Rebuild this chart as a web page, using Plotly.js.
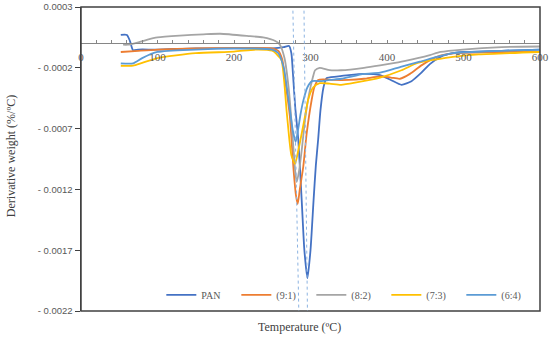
<!DOCTYPE html>
<html>
<head>
<meta charset="utf-8">
<script src="https://cdn.plot.ly/plotly-3.0.1.min.js"></script>
<style>html,body{margin:0;padding:0;background:#fff;}#chart{width:550px;height:341px;}</style>
</head>
<body>
<div id="chart"></div>
<script>
// Series names
const seriesNames = ["PAN", "(9:1)", "(8:2)", "(7:3)", "(6:4)"];

// Temperature (°C) and derivative weight (%/°C) for each series
const panT = [52, 60, 64, 68, 75, 100, 150, 200, 250, 265, 272, 275, 277, 280, 284, 288.5, 292, 296, 300, 304, 307, 310, 313, 317, 321, 334, 350, 370, 391, 405, 419, 432, 445, 456, 470, 486, 500, 550, 600];
const panY = [0.00007, 0.00007, 0.00002, -0.000055, -0.00005, -0.00005, -0.00004, -0.00004, -0.00004, -0.00003, -0.00002, -0.00008, -0.000245, -0.00052, -0.00079, -0.00129, -0.0017, -0.00193, -0.0017, -0.00129, -0.001, -0.00079, -0.00055, -0.00036, -0.000286, -0.000273, -0.00026, -0.00025, -0.00026, -0.0003, -0.00034, -0.00031, -0.00024, -0.00017, -0.00011, -0.00008, -0.00007, -0.00006, -0.00005];

const s91T = [52, 75, 100, 150, 200, 250, 258, 263, 268, 273, 278, 281, 283.3, 286, 290.6, 295, 301.5, 305, 310, 317, 330, 350, 370, 391, 405, 417, 430, 445, 465, 490, 550, 600];
const s91Y = [-0.00007, -0.00006, -0.00005, -0.00004, -0.000037, -0.00004, -0.00006, -0.00013, -0.00035, -0.0006, -0.00105, -0.00125, -0.00132, -0.0012, -0.00101, -0.00074, -0.000465, -0.00036, -0.0003, -0.000295, -0.0003, -0.0003, -0.00029, -0.00027, -0.00028, -0.00029, -0.00025, -0.00018, -0.00011, -0.00008, -0.00007, -0.00007];

const s82T = [55, 61, 75, 86, 100, 129, 160, 182, 221, 238, 254, 260, 266, 272, 277, 280, 282, 285, 288.5, 292.8, 298, 303, 306, 312, 325, 340, 370, 391, 419, 440, 456, 470, 499, 550, 600];
const s82Y = [-0.00001, -0.00001, 0.00001, 0.00003, 0.00005, 0.000065, 0.000075, 0.00008, 0.00006, 0.00005, 0.00002, -0.00001, -0.00012, -0.0004, -0.0008, -0.00105, -0.00114, -0.00105, -0.00088, -0.00063, -0.00042, -0.00028, -0.00022, -0.0002, -0.00022, -0.00022, -0.0002, -0.00018, -0.00015, -0.00012, -0.000095, -0.00007, -0.00005, -0.00003, -0.000025];

const s73T = [52, 68, 80, 100, 150, 200, 230, 250, 256, 262, 269, 275, 279.7, 284, 288.5, 292.8, 297, 303.7, 312, 325, 340, 360, 391, 419, 440, 465, 486, 520, 600];
const s73Y = [-0.000183, -0.000183, -0.00016, -0.00012, -0.00008, -0.000067, -0.00005, -0.00006, -0.00009, -0.000136, -0.00057, -0.00092, -0.00099, -0.00088, -0.00074, -0.0006, -0.00046, -0.00036, -0.000327, -0.00033, -0.00034, -0.00032, -0.00028, -0.00022, -0.00016, -0.00013, -0.00011, -0.00009, -0.00007];

const s64T = [52, 68, 80, 100, 150, 200, 250, 258, 265, 272, 277, 280.6, 284, 287, 290.6, 296, 302, 314.6, 325, 340, 370, 391, 419, 443, 465, 486, 550, 600];
const s64Y = [-0.000163, -0.000163, -0.00012, -0.00007, -0.00005, -0.00004, -0.00005, -0.00008, -0.0002, -0.0005, -0.00072, -0.00081, -0.0007, -0.00058, -0.00047, -0.00036, -0.00031, -0.00031, -0.0003, -0.00029, -0.00025, -0.00024, -0.00019, -0.00015, -0.00011, -0.00008, -0.00006, -0.00005];

// Dotted peak marker lines: [x at top, x at bottom]
const peakLine1 = [277, 284.7];
const peakLine2 = [291.5, 296];

// Axis ticks
const xTickVals = [0, 100, 200, 300, 400, 500, 600];
const xTickText = ["0", "100", "200", "300", "400", "500", "600"];
const yTickVals = [0.0003, -0.0002, -0.0007, -0.0012, -0.0017, -0.0022];
const yTickText = ["0.0003", "- 0.0002", "- 0.0007", "- 0.0012", "- 0.0017", "- 0.0022"];

const colors = ["#4472C4", "#ED7D31", "#A5A5A5", "#FFC000", "#5B9BD5"];
const xs = [panT, s91T, s82T, s73T, s64T];
const ys = [panY, s91Y, s82Y, s73Y, s64Y];

const traces = seriesNames.map((n, i) => ({
  x: xs[i], y: ys[i], name: n, type: "scatter", mode: "lines",
  line: {color: colors[i], width: 1.8, shape: "spline", smoothing: 0.6},
  hoverinfo: "skip"
}));

const serif = "Liberation Serif, DejaVu Serif, serif";
const sans = "Liberation Sans, Arial, sans-serif";

const layout = {
  width: 550, height: 341,
  margin: {l: 81, r: 10, t: 7, b: 30, autoexpand: false},
  paper_bgcolor: "#ffffff", plot_bgcolor: "#ffffff",
  showlegend: true,
  legend: {
    orientation: "h", x: 0.175, xanchor: "left", y: 0.053, yanchor: "middle",
    font: {family: serif, size: 10, color: "#595959"},
    bgcolor: "rgba(0,0,0,0)", entrywidth: 30, entrywidthmode: "pixels",
    itemwidth: 30, tracegroupgap: 0
  },
  xaxis: {
    range: [0, 600], anchor: "free", position: 0.88,
    tickvals: xTickVals, ticktext: xTickText,
    ticks: "inside", ticklen: 3, tickcolor: "#868686",
    minor: {dtick: 20, ticks: "inside", ticklen: 3, tickcolor: "#868686"},
    ticklabelstandoff: 3,
    showline: true, linecolor: "#868686", linewidth: 1,
    showgrid: false, zeroline: false,
    tickfont: {family: serif, size: 11, color: "#595959"}
  },
  yaxis: {
    range: [-0.0022, 0.0003],
    tickvals: yTickVals, ticktext: yTickText,
    ticks: "outside", ticklen: 5, tickcolor: "#404040",
    showline: true, linecolor: "#404040", linewidth: 1.5,
    showgrid: false, zeroline: false,
    tickfont: {family: sans, size: 9.5, color: "#595959"}
  },
  shapes: [
    {type: "rect", xref: "paper", yref: "paper", x0: 0, x1: 1, y0: 0, y1: 1,
     line: {color: "#404040", width: 1.5}},
    {type: "line", xref: "x", yref: "y", x0: peakLine1[0], x1: peakLine1[1], y0: 0.00027, y1: -0.0022,
     line: {color: "#8DB4E2", width: 1, dash: "dot"}},
    {type: "line", xref: "x", yref: "y", x0: peakLine2[0], x1: peakLine2[1], y0: 0.00027, y1: -0.0022,
     line: {color: "#8DB4E2", width: 1, dash: "dot"}}
  ],
  annotations: [
    {text: "Temperature (ºC)", xref: "paper", yref: "paper", x: 0.475, y: -0.053,
     xanchor: "center", yanchor: "middle", showarrow: false,
     font: {family: serif, size: 12, color: "#404040"}},
    {text: "Derivative weight (%/ºC)", xref: "paper", yref: "paper", x: -0.152, y: 0.51,
     xanchor: "center", yanchor: "middle", textangle: -90, showarrow: false,
     font: {family: serif, size: 12, color: "#404040"}}
  ]
};

Plotly.newPlot("chart", traces, layout, {displayModeBar: false, staticPlot: true});
</script>
</body>
</html>
